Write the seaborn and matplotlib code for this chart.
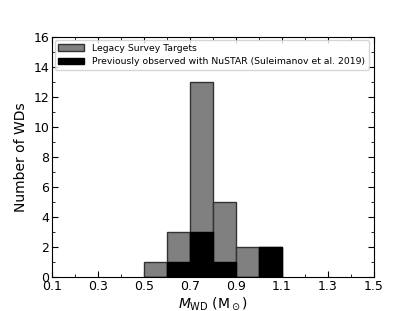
import numpy as np
import pandas as pd
import matplotlib
matplotlib.use("Agg")
import matplotlib.pyplot as plt
import seaborn as sns
from matplotlib.ticker import MultipleLocator

# bin edges and counts
bin_edges = [0.5, 0.6, 0.7, 0.8, 0.9, 1.0, 1.1]
bin_centers = [0.55, 0.65, 0.75, 0.85, 0.95, 1.05]
legacy_counts = [1, 3, 13, 5, 2, 2]
nustar_counts = [0, 1, 3, 1, 0, 2]

sns.set_style("ticks", {"axes.edgecolor": "black", "xtick.color": "black",
                        "ytick.color": "black", "text.color": "black",
                        "axes.labelcolor": "black"})
plt.rcParams["font.family"] = ["DejaVu Sans"]

fig, ax = plt.subplots(figsize=(4.15, 3.11), dpi=100)

df = pd.DataFrame({"mass": bin_centers, "legacy": legacy_counts, "nustar": nustar_counts})

sns.histplot(data=df, x="mass", weights="legacy", bins=bin_edges, ax=ax,
             color="#808080", edgecolor="#333333", linewidth=1.0, alpha=1,
             label="Legacy Survey Targets")
sns.histplot(data=df, x="mass", weights="nustar", bins=bin_edges, ax=ax,
             color="black", edgecolor="black", linewidth=1.0, alpha=1,
             label="Previously observed with NuSTAR (Suleimanov et al. 2019)")

ax.set_xlim(0.1, 1.5)
ax.set_ylim(0, 16)
ax.set_xticks(np.arange(0.1, 1.51, 0.2))
ax.set_xticklabels(["0.1", "0.3", "0.5", "0.7", "0.9", "1.1", "1.3", "1.5"])
ax.xaxis.set_minor_locator(MultipleLocator(0.1))
ax.yaxis.set_major_locator(MultipleLocator(2))
ax.yaxis.set_minor_locator(MultipleLocator(1))
ax.tick_params(which="both", direction="in", top=True, right=True, labelsize=9, pad=2)
ax.tick_params(which="major", length=4)
ax.tick_params(which="minor", length=2)

ax.set_xlabel(r"$M_{\rm WD}$ (M$_\odot$)", fontsize=10, labelpad=2)
ax.set_ylabel("Number of WDs", fontsize=10, labelpad=4)
ax.legend(loc="upper left", fontsize=6.7, frameon=True, borderaxespad=0.3,
          handlelength=2.8, fancybox=True)

fig.subplots_adjust(left=0.125, right=0.9, top=0.88, bottom=0.11)
fig.savefig("out.png", dpi=100)
